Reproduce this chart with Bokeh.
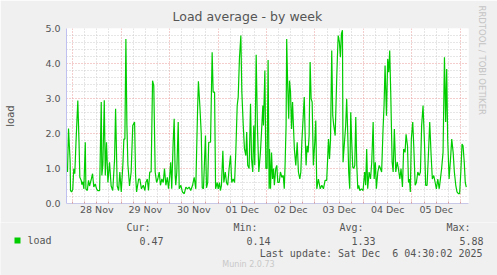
from bokeh.plotting import figure
from bokeh.layouts import column
from bokeh.models import Range1d, FixedTicker, Label, NumeralTickFormatter, Title
from bokeh.embed import file_html
from bokeh.resources import INLINE

# ---- data (hours since 2025-11-28 00:00, load average) ----
hours_a = [-2.5, -2.0, -1.2, -1.0, -0.5, 0.1, 0.6, 1.1, 1.7, 2.6, 3.2, 3.6, 4.3, 4.6, 5.1, 5.6, 6.3, 6.6,
           7.3, 7.9, 8.4, 9.3, 9.9, 10.5, 11.2, 11.9, 12.5, 13.4, 14.2, 14.5, 15.0, 15.7, 16.2, 16.8,
           17.5, 18.3, 19.1, 19.9, 20.8, 21.3, 22.1, 22.8, 23.4, 24.1, 24.9, 25.4, 25.9, 26.4, 26.9,
           27.4, 28.2, 29.0, 29.8, 30.7]
load_a = [0.9, 2.14, 1.2, 0.37, 0.33, 0.4, 0.99, 0.85, 1.75, 2.94, 1.75, 0.75, 0.66, 0.54, 0.62, 0.42,
          1.75, 0.42, 0.37, 0.66, 0.5, 0.7, 0.85, 0.47, 0.56, 0.42, 0.37, 0.37, 2.9, 0.8, 1.1, 2.95,
          0.8, 1.75, 0.6, 1.18, 0.5, 0.37, 1.27, 2.71, 0.5, 0.37, 0.9, 0.33, 1.1, 1.84, 1.84, 4.7,
          2.23, 1.1, 0.5, 0.9, 2.23, 2.33]
hours_b = [31.2, 31.7, 32.7, 33.3, 34.1, 35.0, 35.8, 36.3, 37.0, 37.6, 38.2, 38.9, 39.6, 40.2, 40.9,
           41.6, 42.2, 42.9, 43.5, 44.2, 44.9, 45.5, 46.2, 46.9, 47.5, 48.1, 48.6, 49.1, 49.8, 50.3,
           50.8, 51.1, 51.6, 52.3, 52.8, 53.6, 54.4, 55.3, 56.1, 56.9, 57.7, 58.5, 59.4, 60.2, 61.0,
           61.9, 62.3, 63.0, 63.7, 64.2]
load_b = [0.8, 0.33, 0.7, 0.7, 0.42, 0.52, 0.37, 0.6, 0.7, 0.37, 0.9, 0.9, 3.51, 3.37, 0.9, 0.6, 0.7,
          0.9, 0.52, 0.7, 0.6, 1.0, 0.52, 0.75, 0.42, 0.8, 1.18, 0.42, 1.75, 2.42, 0.8, 0.52, 0.9,
          2.33, 0.42, 0.52, 0.33, 0.28, 0.47, 0.42, 0.47, 0.37, 0.52, 0.75, 0.42, 2.71, 3.49, 2.8,
          2.0, 0.45]
hours_c = [64.8, 65.8, 66.3, 66.9, 67.4, 68.3, 69.1, 69.6, 70.3, 70.8, 71.6, 72.1, 72.7, 73.2, 73.7,
           74.4, 74.9, 75.6, 76.2, 76.8, 77.5, 78.2, 78.8, 79.5, 80.2, 80.8, 81.5, 82.0, 82.6, 83.3,
           83.8, 84.5, 85.1, 85.8, 86.2, 86.7, 87.4, 88.1, 88.6, 89.2, 89.7, 90.2, 90.9, 91.5, 92.2,
           93.0, 93.7, 94.2, 94.5, 95.2, 95.7, 96.3, 96.8, 97.3]
load_c = [0.42, 1.94, 0.45, 0.6, 1.75, 1.75, 4.32, 3.18, 3.18, 0.42, 0.6, 0.42, 0.6, 0.37, 0.52, 1.51,
          0.6, 0.9, 0.6, 0.52, 1.0, 1.37, 0.6, 0.7, 0.6, 1.46, 2.8, 3.04, 4.13, 4.8, 3.18, 2.23,
          1.56, 1.37, 2.04, 1.09, 1.0, 2.85, 1.27, 0.9, 2.23, 1.09, 4.25, 2.23, 0.9, 1.46, 2.23,
          2.8, 2.23, 3.8, 1.0, 1.0, 4.1, 0.42]
hours_d = [97.5, 98.0, 98.5, 99.0, 99.5, 99.9, 100.6, 101.1, 101.6, 102.3, 102.9, 103.6, 104.3, 104.8,
           105.2, 105.7, 106.0, 106.5, 107.0, 107.4, 107.9, 108.4, 108.9, 109.4, 109.8, 110.5, 111.2,
           111.8, 112.5, 113.0, 113.5, 114.2, 114.7, 115.1, 115.6, 116.1, 116.6, 117.1, 117.6, 118.1,
           118.6, 119.2, 119.9, 120.4, 120.9, 121.7, 122.6, 123.4, 124.2, 125.0, 125.8, 126.7, 127.2,
           127.7, 128.3, 128.8, 129.3, 130.0, 130.8, 131.3]
load_d = [1.56, 0.42, 1.46, 0.7, 1.0, 0.52, 1.0, 1.09, 0.6, 0.6, 0.9, 0.75, 0.8, 0.42, 1.09, 2.23, 4.7,
          3.37, 2.42, 3.51, 3.18, 2.13, 2.9, 2.13, 1.56, 1.09, 1.75, 0.9, 0.7, 0.9, 1.75, 2.51, 3.04,
          2.04, 1.09, 1.65, 1.46, 1.94, 4.04, 2.99, 2.9, 1.09, 1.75, 2.37, 0.42, 0.7, 0.42, 0.52,
          0.42, 0.66, 0.66, 1.84, 1.27, 1.84, 4.37, 2.51, 2.23, 1.94, 3.65, 4.51]
hours_e = [131.5, 132.1, 132.6, 133.1, 133.6, 133.9, 134.6, 135.2, 135.7, 136.2, 136.7, 137.2, 137.7,
           138.2, 138.7, 139.2, 139.7, 140.2, 140.7, 141.2, 141.7, 142.2, 143.0, 143.8, 144.6, 145.1,
           145.6, 146.1, 146.8, 147.5, 148.1, 148.8, 149.3, 149.9, 150.4, 151.1, 151.8, 152.4, 153.0,
           153.7, 154.2, 154.7, 155.4, 156.0, 156.5, 157.0, 157.5, 158.2, 158.7, 159.3, 160.0, 160.7,
           161.3, 162.0, 162.6, 163.3, 163.9, 164.6, 165.1]
load_e = [4.8, 4.61, 4.18, 4.85, 4.95, 1.18, 1.75, 2.23, 2.99, 2.04, 0.9, 0.42, 2.61, 1.75, 1.04, 1.0,
          1.09, 2.47, 1.09, 0.42, 0.52, 0.37, 0.42, 0.37, 0.9, 0.52, 1.56, 0.42, 0.9, 0.7, 1.18, 2.33,
          0.7, 1.18, 0.42, 0.9, 1.09, 1.0, 0.9, 2.13, 2.8, 3.94, 2.51, 4.13, 3.75, 4.37, 3.18, 1.18,
          0.9, 2.13, 0.9, 1.18, 1.0, 0.7, 1.0, 0.47, 1.56, 1.46, 1.98]
hours_f = [165.8, 166.3, 166.8, 167.2, 167.7, 168.4, 168.9, 169.6, 170.2, 170.9, 171.6, 172.2, 172.8,
           173.5, 174.2, 174.8, 175.5, 176.2, 176.8, 177.5, 178.1, 178.8, 179.5, 180.1, 180.8, 181.5,
           182.1, 182.7, 183.4, 184.1, 184.7, 185.2, 185.7, 186.4, 187.1, 187.7, 188.4, 189.0, 189.7,
           190.3, 191.0, 191.6, 192.2, 192.8, 193.3, 193.9, 194.4, 194.9]
load_f = [1.65, 0.6, 0.7, 0.33, 1.84, 2.33, 1.65, 0.52, 0.6, 0.9, 0.8, 0.9, 2.23, 2.8, 1.75, 0.52, 0.52,
          1.46, 2.33, 1.37, 0.7, 0.8, 0.6, 0.42, 0.7, 0.42, 0.7, 1.0, 1.46, 4.18, 2.33, 3.84, 1.84,
          0.7, 1.27, 1.84, 1.46, 0.9, 0.52, 0.33, 0.28, 0.28, 0.9, 1.7, 1.65, 1.18, 0.6, 0.47]

day_labels = ["28 Nov", "29 Nov", "30 Nov", "01 Dec", "02 Dec", "03 Dec", "04 Dec", "05 Dec"]
y_ticks = [0, 1, 2, 3, 4, 5]
stats_names = ["Cur:", "Min:", "Avg:", "Max:"]
stats_values = ["0.47", "0.14", "1.33", "5.88"]
series_name = "load"
title_text = "Load average - by week"
last_update = "Last update: Sat Dec \u00a06 04:30:02 2025"

hours = hours_a + hours_b + hours_c + hours_d + hours_e + hours_f
load = load_a + load_b + load_c + load_d + load_e + load_f
assert len(hours) == len(load)

BG = "#F0F0F0"
TXT = "#555555"
TOP_H = 222

# ---- main chart ----
p = figure(width=497, height=TOP_H, output_backend="svg", toolbar_location=None,
           x_range=Range1d(-3.0, 196.0), y_range=Range1d(0, 5.0),
           min_border_left=66, min_border_right=29, min_border_top=28, min_border_bottom=TOP_H - 203,
           background_fill_color="white", border_fill_color=BG, outline_line_color=None)
p.frame_align = False

midnights = [24.0 * i for i in range(len(day_labels) + 1)]
noons = [24.0 * i + 12 for i in range(len(day_labels))]
six_h = [6.0 * k for k in range(0, 33) if k % 4]
y_minor = [round(0.2 * k, 1) for k in range(26) if k % 5]

p.xgrid.ticker = FixedTicker(ticks=midnights, minor_ticks=six_h)
p.ygrid.ticker = FixedTicker(ticks=y_ticks, minor_ticks=y_minor)
for g in (p.xgrid, p.ygrid):
    g.grid_line_color = "#e89a9a"
    g.grid_line_dash = "1 2"
    g.minor_grid_line_color = "#cccccc"
    g.minor_grid_line_dash = "1 2"

p.line(hours, load, line_color="#00CC00", line_width=1.2)

ax = p.xaxis[0]
ax.ticker = FixedTicker(ticks=noons, minor_ticks=[6.0 * k for k in range(0, 33)])
ax.major_label_overrides = {n: lab for n, lab in zip(noons, day_labels)}
ax.major_tick_line_color = None
ax.major_tick_out = 0
ax.minor_tick_in = 2
ax.minor_tick_out = 0
ax.minor_tick_line_color = "#d8a0a0"
ax.axis_line_color = "#c8c8e8"
ax.major_label_standoff = 0
ax.major_label_text_font = "DejaVu Sans"
ax.major_label_text_font_size = "9.5px"
ax.major_label_text_color = TXT

ay = p.yaxis[0]
ay.ticker = FixedTicker(ticks=y_ticks)
ay.formatter = NumeralTickFormatter(format="0.0")
ay.major_tick_in = 0
ay.major_tick_out = 0
ay.minor_tick_line_color = None
ay.axis_line_color = "#c0c0f0"
ay.major_label_standoff = 6
ay.major_label_text_font = "DejaVu Sans"
ay.major_label_text_font_size = "9.5px"
ay.major_label_text_color = TXT
ay.axis_label = series_name
ay.axis_label_text_font = "DejaVu Sans"
ay.axis_label_text_font_style = "normal"
ay.axis_label_text_font_size = "10px"
ay.axis_label_text_color = TXT
ay.axis_label_standoff = 26

p.add_layout(Title(text=title_text, align="left", offset=106, text_font="DejaVu Sans",
                   text_font_size="12.5px", text_font_style="normal", text_color=TXT), "above")
p.add_layout(Title(text="RRDTOOL / TOBI OETIKER", align="left", offset=-23, standoff=16,
                   text_font="DejaVu Sans", text_font_size="8.5px", text_font_style="normal",
                   text_color="#c4c4c4"), "right")

# ---- legend / footer area (canvas pixel coordinates) ----
q = figure(width=497, height=275 - TOP_H, output_backend="svg", toolbar_location=None,
           x_range=Range1d(0, 497), y_range=Range1d(275, TOP_H),
           min_border_left=0, min_border_right=0, min_border_top=0, min_border_bottom=0,
           background_fill_color=BG, border_fill_color=BG, outline_line_color=None)
q.frame_align = False
q.axis.visible = False
q.grid.visible = False
q.rect(x=[17], y=[240], width=6, height=6, fill_color="#00CC00", line_color=None)


def lab(cx, cy, text, size="10px", color=TXT, align="left", font="DejaVu Sans Mono"):
    q.add_layout(Label(x=cx, y=cy, text=text, text_font=font, text_font_size=size,
                       text_color=color, text_align=align, text_baseline="middle"))


lab(27, 240, series_name)
name_right = [150, 257, 363, 470]
val_right = [163, 270, 375, 483]
for nm, vl, xr, xv in zip(stats_names, stats_values, name_right, val_right):
    lab(xr, 227, nm, align="right")
    lab(xv, 240, vl, align="right")
lab(482, 253, last_update, align="right")
lab(248, 264, "Munin 2.0.73", size="8px", color="#c8c8c8", align="center", font="DejaVu Sans")

layout = column(p, q, spacing=0)
open("out.html", "w").write(file_html(layout, INLINE))
